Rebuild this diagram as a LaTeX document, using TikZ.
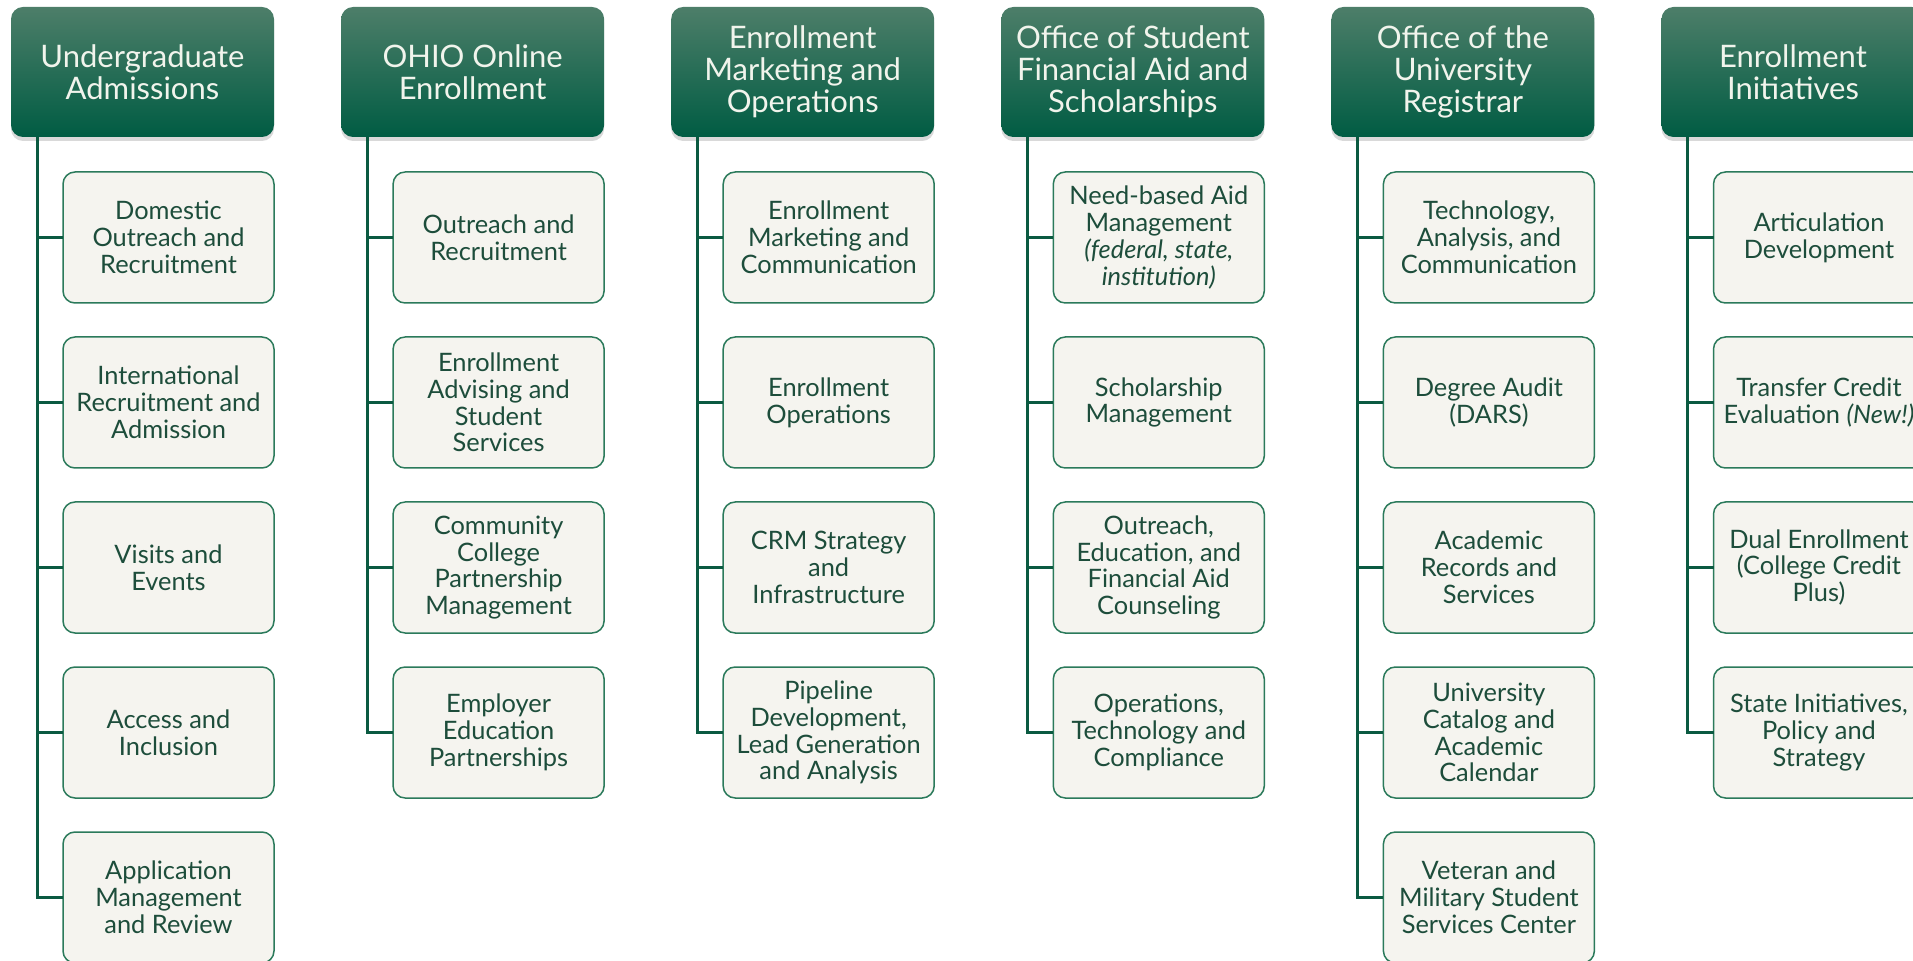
\documentclass[tikz,border=0pt]{standalone}
\usepackage{fontspec}
\setmainfont{Lato}
\usetikzlibrary{positioning, calc, shadows}

\definecolor{headtop}{HTML}{4D7E69}
\definecolor{headmid}{HTML}{0A664B}
\definecolor{headbottom}{HTML}{005C43}
\definecolor{headtext}{HTML}{F1F4EC}
\definecolor{unitfill}{HTML}{F5F4EF}
\definecolor{unitline}{HTML}{2B7A5B}
\definecolor{unittext}{HTML}{1D4D3B}
\definecolor{trunkgreen}{HTML}{0B5A41}

\begin{document}
\begin{tikzpicture}[
                font=\fontsize{12.7}{13.4}\selectfont,
                node distance=17pt and 33.55pt,
                head/.style={rounded corners=6pt, align=center, inner sep=0pt, outer sep=0pt,
                    minimum width=131.5pt, minimum height=65pt,
                    top color=headtop, middle color=headmid, bottom color=headbottom,
                    text=headtext, font=\fontsize{15.5}{16}\selectfont,
                    drop shadow={shadow xshift=0pt, shadow yshift=-2pt, opacity=0.3}},
                unit/.style={draw=unitline, line width=0.75pt, rounded corners=6pt,
                    fill=unitfill, text=unittext, align=center, inner sep=0pt, outer sep=0pt,
                    minimum width=105.5pt, minimum height=65.5pt},
                first/.style={unit, below left=17.5pt and 0pt of #1.south east},
                branch/.style={draw=trunkgreen, line width=1.5pt}]

    \useasboundingbox (0,0) rectangle (956.5pt,480pt);

    %%% HEADS
    \node [head] (undergrad) at (71.25pt,444pt) {Undergraduate\\Admissions};
    \node [head, right=of undergrad] (ohioonline) {OHIO Online\\Enrollment};
    \node [head, right=of ohioonline] (marketingops) {Enrollment\\Marketing and\\Operations};
    \node [head, right=of marketingops] (finaid) {Office of Student\\Financial Aid and\\Scholarships};
    \node [head, right=of finaid] (registrar) {Office of the\\University\\Registrar};
    \node [head, right=of registrar] (initiatives) {Enrollment\\Initiatives};

    %%% UNITS
    \node [first=undergrad] (domestic) {Domestic\\Outreach and\\Recruitment};
    \node [unit, below=of domestic] (international) {International\\Recruitment and\\Admission};
    \node [unit, below=of international] (visits) {Visits and\\Events};
    \node [unit, below=of visits] (access) {Access and\\Inclusion};
    \node [unit, below=of access] (application) {Application\\Management\\and Review};

    \node [first=ohioonline] (outreach) {Outreach and\\Recruitment};
    \node [unit, below=of outreach] (advising) {Enrollment\\Advising and\\Student\\Services};
    \node [unit, below=of advising] (community) {Community\\College\\Partnership\\Management};
    \node [unit, below=of community] (employer) {Employer\\Education\\Partnerships};

    \node [first=marketingops] (marketingcomm) {Enrollment\\Marketing and\\Communication};
    \node [unit, below=of marketingcomm] (operations) {Enrollment\\Operations};
    \node [unit, below=of operations] (crm) {CRM Strategy\\and\\Infrastructure};
    \node [unit, below=of crm] (pipeline) {Pipeline\\Development,\\Lead Generation\\and Analysis};

    \node [first=finaid] (needbased) {Need-based Aid\\Management\\\textit{(federal, state,}\\\textit{institution)}};
    \node [unit, below=of needbased] (scholarship) {Scholarship\\Management};
    \node [unit, below=of scholarship] (aidoutreach) {Outreach,\\Education, and\\Financial Aid\\Counseling};
    \node [unit, below=of aidoutreach] (aidoperations) {Operations,\\Technology and\\Compliance};

    \node [first=registrar] (technology) {Technology,\\Analysis, and\\Communication};
    \node [unit, below=of technology] (degreeaudit) {Degree Audit\\(DARS)};
    \node [unit, below=of degreeaudit] (records) {Academic\\Records and\\Services};
    \node [unit, below=of records] (catalog) {University\\Catalog and\\Academic\\Calendar};
    \node [unit, below=of catalog] (veteran) {Veteran and\\Military Student\\Services Center};

    \node [first=initiatives] (articulation) {Articulation\\Development};
    \node [unit, below=of articulation] (transfer) {Transfer Credit\\Evaluation \textit{(New!)}};
    \node [unit, below=of transfer] (dualenrollment) {Dual Enrollment\\(College Credit\\Plus)};
    \node [unit, below=of dualenrollment] (stateinitiatives) {State Initiatives,\\Policy and\\Strategy};

    %%% TRUNKS
    \coordinate (undergradtrunk) at ($(undergrad.south west)+(13pt,0)$);
    \coordinate (ohioonlinetrunk) at ($(ohioonline.south west)+(13pt,0)$);
    \coordinate (marketingopstrunk) at ($(marketingops.south west)+(13pt,0)$);
    \coordinate (finaidtrunk) at ($(finaid.south west)+(13pt,0)$);
    \coordinate (registrartrunk) at ($(registrar.south west)+(13pt,0)$);
    \coordinate (initiativestrunk) at ($(initiatives.south west)+(13pt,0)$);

    %%% CONNECTIONS
    \draw [branch] (undergradtrunk) |- (domestic.west);
    \draw [branch] (undergradtrunk) |- (international.west);
    \draw [branch] (undergradtrunk) |- (visits.west);
    \draw [branch] (undergradtrunk) |- (access.west);
    \draw [branch] (undergradtrunk) |- (application.west);

    \draw [branch] (ohioonlinetrunk) |- (outreach.west);
    \draw [branch] (ohioonlinetrunk) |- (advising.west);
    \draw [branch] (ohioonlinetrunk) |- (community.west);
    \draw [branch] (ohioonlinetrunk) |- (employer.west);

    \draw [branch] (marketingopstrunk) |- (marketingcomm.west);
    \draw [branch] (marketingopstrunk) |- (operations.west);
    \draw [branch] (marketingopstrunk) |- (crm.west);
    \draw [branch] (marketingopstrunk) |- (pipeline.west);

    \draw [branch] (finaidtrunk) |- (needbased.west);
    \draw [branch] (finaidtrunk) |- (scholarship.west);
    \draw [branch] (finaidtrunk) |- (aidoutreach.west);
    \draw [branch] (finaidtrunk) |- (aidoperations.west);

    \draw [branch] (registrartrunk) |- (technology.west);
    \draw [branch] (registrartrunk) |- (degreeaudit.west);
    \draw [branch] (registrartrunk) |- (records.west);
    \draw [branch] (registrartrunk) |- (catalog.west);
    \draw [branch] (registrartrunk) |- (veteran.west);

    \draw [branch] (initiativestrunk) |- (articulation.west);
    \draw [branch] (initiativestrunk) |- (transfer.west);
    \draw [branch] (initiativestrunk) |- (dualenrollment.west);
    \draw [branch] (initiativestrunk) |- (stateinitiatives.west);

\end{tikzpicture}
\end{document}
